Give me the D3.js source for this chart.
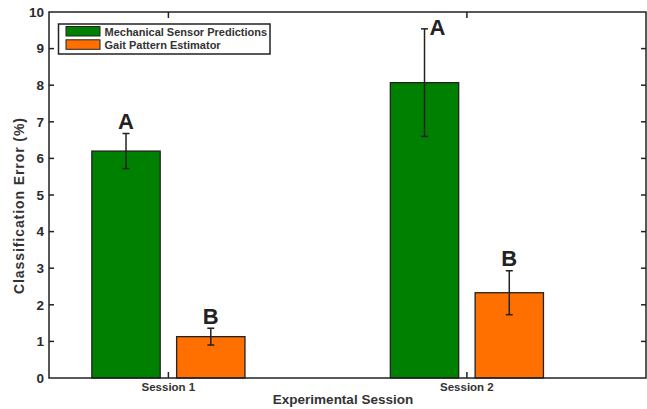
<!DOCTYPE html>
<html><head><meta charset="utf-8">
<script src="https://cdn.jsdelivr.net/npm/d3@7"></script>
<style>body{margin:0;background:#fff}svg{display:block}text{font-family:"Liberation Sans",Arial,sans-serif;font-weight:bold}</style>
</head><body><svg id="c" width="647" height="409"></svg>
<script>
const sessions = ["Session 1", "Session 2"];
const seriesNames = ["Mechanical Sensor Predictions", "Gait Pattern Estimator"];
const mechanical = [6.2, 8.07];
const mechanicalErr = [0.48, 1.47];
const gait = [1.13, 2.33];
const gaitErr = [0.23, 0.6];
const mechanicalLetters = ["A", "A"];
const gaitLetters = ["B", "B"];
const yTicks = [0,1,2,3,4,5,6,7,8,9,10];

const svg = d3.select("#c");
const L = 49, R = 646, T = 12, B = 378;
const x = d3.scaleLinear().domain([0.6, 2.6]).range([L, R]);
const y = d3.scaleLinear().domain([0, 10]).range([B, T]);
const colors = ["#008000", "#ff7000"];
const offs = [-0.142, 0.142], bw = 0.229;

const series = [
  {vals: mechanical, err: mechanicalErr, letters: mechanicalLetters},
  {vals: gait, err: gaitErr, letters: gaitLetters}
];
const ink = "#222";

series.forEach((s, si) => {
  s.vals.forEach((v, i) => {
    const cx = x(i + 1 + offs[si]);
    const w = x(bw) - x(0);
    svg.append("rect").attr("x", cx - w/2).attr("y", y(v)).attr("width", w).attr("height", y(0) - y(v))
      .attr("fill", colors[si]).attr("stroke", ink).attr("stroke-width", 1.3);
  });
});
// error bars
series.forEach((s, si) => {
  s.vals.forEach((v, i) => {
    const cx = x(i + 1 + offs[si]);
    const lo = y(v - s.err[i]), hi = y(v + s.err[i]);
    const g = svg.append("g").attr("stroke", ink).attr("stroke-width", 1.5);
    g.append("line").attr("x1", cx).attr("x2", cx).attr("y1", lo).attr("y2", hi);
    g.append("line").attr("x1", cx-3.5).attr("x2", cx+3.5).attr("y1", lo).attr("y2", lo);
    g.append("line").attr("x1", cx-3.5).attr("x2", cx+3.5).attr("y1", hi).attr("y2", hi);
    // letter
    let ly = hi - 4.5, lx = cx;
    if (ly - 16 < T + 4) { ly = T + 23; lx = cx + 13; }
    svg.append("text").attr("x", lx).attr("y", ly).attr("text-anchor", "middle")
      .attr("font-size", 22).attr("fill", "#222").text(s.letters[i]);
  });
});

// frame
svg.append("rect").attr("x", L).attr("y", T).attr("width", R-L).attr("height", B-T)
  .attr("fill", "none").attr("stroke", ink).attr("stroke-width", 1.5);

// y ticks
yTicks.forEach(t => {
  if (t > 0 && t < 10) {
    svg.append("line").attr("x1", L).attr("x2", L+5).attr("y1", y(t)).attr("y2", y(t)).attr("stroke", ink).attr("stroke-width", 1.5);
    svg.append("line").attr("x1", R).attr("x2", R-5).attr("y1", y(t)).attr("y2", y(t)).attr("stroke", ink).attr("stroke-width", 1.5);
  }
  svg.append("text").attr("x", 44).attr("y", y(t) + 4.8).attr("text-anchor", "end")
    .attr("font-size", 13.5).attr("fill", "#2a2a2a").text(t);
});
// x ticks
sessions.forEach((s, i) => {
  const cx = x(i + 1);
  svg.append("line").attr("x1", cx).attr("x2", cx).attr("y1", B).attr("y2", B-6).attr("stroke", ink).attr("stroke-width", 1.5);
  svg.append("line").attr("x1", cx).attr("x2", cx).attr("y1", T).attr("y2", T+6).attr("stroke", ink).attr("stroke-width", 1.5);
  svg.append("text").attr("x", cx).attr("y", 391).attr("text-anchor", "middle")
    .attr("font-size", 11.5).attr("fill", "#333").text(s);
});

svg.append("text").attr("x", 343).attr("y", 404).attr("text-anchor", "middle")
  .attr("font-size", 13.5).attr("fill", "#333").text("Experimental Session");
svg.append("text").attr("transform", "translate(24,206) rotate(-90)").attr("text-anchor", "middle")
  .attr("font-size", 14).attr("fill", "#333").attr("textLength", 176).attr("lengthAdjust", "spacing")
  .text("Classification Error (%)");

// legend
const lg = svg.append("g");
lg.append("rect").attr("x", 58.5).attr("y", 24).attr("width", 211.5).attr("height", 30)
  .attr("fill", "#fff").attr("stroke", ink).attr("stroke-width", 1.5);
seriesNames.forEach((n, i) => {
  lg.append("rect").attr("x", 66).attr("y", 26.5 + i*13.3).attr("width", 34).attr("height", 9.5)
    .attr("fill", colors[i]).attr("stroke", ink).attr("stroke-width", 1);
  lg.append("text").attr("x", 104.5).attr("y", 35.5 + i*13.3).attr("font-size", 11)
    .attr("fill", "#333").text(n);
});
</script></body></html>
